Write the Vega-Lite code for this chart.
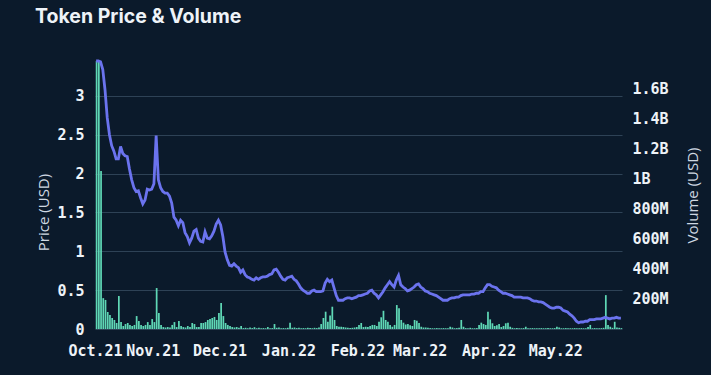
{
"$schema": "https://vega.github.io/schema/vega-lite/v6.json",
"width": 527, "height": 268,
"autosize": {"type": "none"},
"padding": {"left": 95, "top": 61, "right": 89, "bottom": 46},
"background": "#0b1a2b",
"title": {"text": "Token Price & Volume", "anchor": "start", "frame": "group", "dx": -60, "offset": 13, "baseline": "alphabetic", "font": "Inter", "fontSize": 19.5, "fontWeight": "bold", "color": "#eef3f8"},
"config": {"view": {"stroke": null}},
"data": {"values": [
{"d":"2021-10-06","p":3.45,"v":1780},{"d":"2021-10-07","p":3.45,"v":1780},{"d":"2021-10-08","p":3.44,"v":1050},{"d":"2021-10-09","p":3.34,"v":205},{"d":"2021-10-10","p":3.08,"v":193},{"d":"2021-10-11","p":2.72,"v":113},{"d":"2021-10-12","p":2.50,"v":93},{"d":"2021-10-13","p":2.36,"v":73},{"d":"2021-10-14","p":2.29,"v":60},{"d":"2021-10-15","p":2.19,"v":40},
{"d":"2021-10-16","p":2.19,"v":219},{"d":"2021-10-17","p":2.35,"v":46},{"d":"2021-10-18","p":2.26,"v":20},{"d":"2021-10-19","p":2.23,"v":33},{"d":"2021-10-20","p":2.22,"v":40},{"d":"2021-10-21","p":2.06,"v":27},{"d":"2021-10-22","p":1.92,"v":20},{"d":"2021-10-23","p":1.82,"v":27},{"d":"2021-10-24","p":1.77,"v":86},{"d":"2021-10-25","p":1.78,"v":53},
{"d":"2021-10-26","p":1.69,"v":27},{"d":"2021-10-27","p":1.61,"v":20},{"d":"2021-10-28","p":1.66,"v":27},{"d":"2021-10-29","p":1.80,"v":46},{"d":"2021-10-30","p":1.79,"v":27},{"d":"2021-10-31","p":1.80,"v":66},
{"d":"2021-11-01","p":1.87,"v":46},{"d":"2021-11-02","p":2.49,"v":272},{"d":"2021-11-03","p":1.92,"v":106},{"d":"2021-11-04","p":1.82,"v":27},{"d":"2021-11-05","p":1.77,"v":13},{"d":"2021-11-06","p":1.75,"v":10},{"d":"2021-11-07","p":1.75,"v":13},{"d":"2021-11-08","p":1.71,"v":10},{"d":"2021-11-09","p":1.62,"v":27},{"d":"2021-11-10","p":1.44,"v":46},
{"d":"2021-11-11","p":1.40,"v":13},{"d":"2021-11-12","p":1.33,"v":53},{"d":"2021-11-13","p":1.40,"v":20},{"d":"2021-11-14","p":1.37,"v":13},{"d":"2021-11-15","p":1.24,"v":10},{"d":"2021-11-16","p":1.19,"v":20},{"d":"2021-11-17","p":1.11,"v":13},{"d":"2021-11-18","p":1.17,"v":40},{"d":"2021-11-19","p":1.26,"v":33},{"d":"2021-11-20","p":1.28,"v":13},
{"d":"2021-11-21","p":1.17,"v":13},{"d":"2021-11-22","p":1.13,"v":40},{"d":"2021-11-23","p":1.12,"v":40},{"d":"2021-11-24","p":1.25,"v":46},{"d":"2021-11-25","p":1.17,"v":60},{"d":"2021-11-26","p":1.16,"v":66},{"d":"2021-11-27","p":1.20,"v":73},{"d":"2021-11-28","p":1.26,"v":80},{"d":"2021-11-29","p":1.35,"v":60},{"d":"2021-11-30","p":1.40,"v":106},
{"d":"2021-12-01","p":1.34,"v":173},{"d":"2021-12-02","p":1.19,"v":86},{"d":"2021-12-03","p":0.99,"v":40},{"d":"2021-12-04","p":0.89,"v":27},{"d":"2021-12-05","p":0.82,"v":20},{"d":"2021-12-06","p":0.81,"v":13},{"d":"2021-12-07","p":0.84,"v":10},{"d":"2021-12-08","p":0.81,"v":13},{"d":"2021-12-09","p":0.79,"v":8},{"d":"2021-12-10","p":0.73,"v":20},
{"d":"2021-12-11","p":0.76,"v":6},{"d":"2021-12-12","p":0.70,"v":8},{"d":"2021-12-13","p":0.67,"v":5},{"d":"2021-12-14","p":0.66,"v":10},{"d":"2021-12-15","p":0.64,"v":6},{"d":"2021-12-16","p":0.63,"v":12},{"d":"2021-12-17","p":0.66,"v":5},{"d":"2021-12-18","p":0.64,"v":8},{"d":"2021-12-19","p":0.66,"v":5},{"d":"2021-12-20","p":0.67,"v":6},
{"d":"2021-12-21","p":0.67,"v":5},{"d":"2021-12-22","p":0.68,"v":13},{"d":"2021-12-23","p":0.70,"v":5},{"d":"2021-12-24","p":0.71,"v":6},{"d":"2021-12-25","p":0.76,"v":33},{"d":"2021-12-26","p":0.77,"v":8},{"d":"2021-12-27","p":0.73,"v":10},{"d":"2021-12-28","p":0.68,"v":5},{"d":"2021-12-29","p":0.64,"v":6},{"d":"2021-12-30","p":0.63,"v":5},{"d":"2021-12-31","p":0.66,"v":8},
{"d":"2022-01-01","p":0.67,"v":42},{"d":"2022-01-02","p":0.68,"v":8},{"d":"2022-01-03","p":0.64,"v":10},{"d":"2022-01-04","p":0.62,"v":6},{"d":"2022-01-05","p":0.58,"v":8},{"d":"2022-01-06","p":0.53,"v":5},{"d":"2022-01-07","p":0.50,"v":6},{"d":"2022-01-08","p":0.48,"v":5},{"d":"2022-01-09","p":0.46,"v":8},{"d":"2022-01-10","p":0.46,"v":6},
{"d":"2022-01-11","p":0.49,"v":5},{"d":"2022-01-12","p":0.50,"v":8},{"d":"2022-01-13","p":0.48,"v":6},{"d":"2022-01-14","p":0.48,"v":10},{"d":"2022-01-15","p":0.48,"v":33},{"d":"2022-01-16","p":0.49,"v":73},{"d":"2022-01-17","p":0.59,"v":115},{"d":"2022-01-18","p":0.64,"v":48},{"d":"2022-01-19","p":0.61,"v":90},{"d":"2022-01-20","p":0.63,"v":148},
{"d":"2022-01-21","p":0.53,"v":60},{"d":"2022-01-22","p":0.43,"v":20},{"d":"2022-01-23","p":0.37,"v":15},{"d":"2022-01-24","p":0.37,"v":15},{"d":"2022-01-25","p":0.37,"v":13},{"d":"2022-01-26","p":0.39,"v":10},{"d":"2022-01-27","p":0.40,"v":8},{"d":"2022-01-28","p":0.40,"v":6},{"d":"2022-01-29","p":0.39,"v":8},{"d":"2022-01-30","p":0.40,"v":10},{"d":"2022-01-31","p":0.41,"v":13},
{"d":"2022-02-01","p":0.43,"v":27},{"d":"2022-02-02","p":0.43,"v":40},{"d":"2022-02-03","p":0.44,"v":13},{"d":"2022-02-04","p":0.45,"v":15},{"d":"2022-02-05","p":0.46,"v":13},{"d":"2022-02-06","p":0.49,"v":20},{"d":"2022-02-07","p":0.50,"v":27},{"d":"2022-02-08","p":0.46,"v":27},{"d":"2022-02-09","p":0.44,"v":20},{"d":"2022-02-10","p":0.40,"v":48},
{"d":"2022-02-11","p":0.44,"v":78},{"d":"2022-02-12","p":0.48,"v":121},{"d":"2022-02-13","p":0.53,"v":60},{"d":"2022-02-14","p":0.57,"v":48},{"d":"2022-02-15","p":0.61,"v":27},{"d":"2022-02-16","p":0.57,"v":15},{"d":"2022-02-17","p":0.54,"v":27},{"d":"2022-02-18","p":0.63,"v":159},{"d":"2022-02-19","p":0.69,"v":137},{"d":"2022-02-20","p":0.57,"v":60},
{"d":"2022-02-21","p":0.54,"v":42},{"d":"2022-02-22","p":0.52,"v":30},{"d":"2022-02-23","p":0.49,"v":33},{"d":"2022-02-24","p":0.50,"v":25},{"d":"2022-02-25","p":0.52,"v":20},{"d":"2022-02-26","p":0.54,"v":60},{"d":"2022-02-27","p":0.57,"v":55},{"d":"2022-02-28","p":0.58,"v":40},
{"d":"2022-03-01","p":0.54,"v":15},{"d":"2022-03-02","p":0.52,"v":10},{"d":"2022-03-03","p":0.49,"v":10},{"d":"2022-03-04","p":0.48,"v":8},{"d":"2022-03-05","p":0.46,"v":6},{"d":"2022-03-06","p":0.45,"v":5},{"d":"2022-03-07","p":0.44,"v":5},{"d":"2022-03-08","p":0.43,"v":6},{"d":"2022-03-09","p":0.41,"v":5},{"d":"2022-03-10","p":0.39,"v":5},
{"d":"2022-03-11","p":0.37,"v":6},{"d":"2022-03-12","p":0.37,"v":5},{"d":"2022-03-13","p":0.37,"v":5},{"d":"2022-03-14","p":0.39,"v":15},{"d":"2022-03-15","p":0.40,"v":10},{"d":"2022-03-16","p":0.40,"v":5},{"d":"2022-03-17","p":0.41,"v":6},{"d":"2022-03-18","p":0.41,"v":8},{"d":"2022-03-19","p":0.43,"v":60},{"d":"2022-03-20","p":0.44,"v":15},
{"d":"2022-03-21","p":0.44,"v":6},{"d":"2022-03-22","p":0.44,"v":5},{"d":"2022-03-23","p":0.44,"v":8},{"d":"2022-03-24","p":0.45,"v":5},{"d":"2022-03-25","p":0.45,"v":5},{"d":"2022-03-26","p":0.46,"v":6},{"d":"2022-03-27","p":0.46,"v":27},{"d":"2022-03-28","p":0.48,"v":42},{"d":"2022-03-29","p":0.48,"v":33},{"d":"2022-03-30","p":0.53,"v":27},{"d":"2022-03-31","p":0.57,"v":115},
{"d":"2022-04-01","p":0.57,"v":64},{"d":"2022-04-02","p":0.55,"v":38},{"d":"2022-04-03","p":0.54,"v":20},{"d":"2022-04-04","p":0.53,"v":25},{"d":"2022-04-05","p":0.50,"v":33},{"d":"2022-04-06","p":0.48,"v":13},{"d":"2022-04-07","p":0.46,"v":20},{"d":"2022-04-08","p":0.46,"v":38},{"d":"2022-04-09","p":0.45,"v":42},{"d":"2022-04-10","p":0.44,"v":15},
{"d":"2022-04-11","p":0.43,"v":8},{"d":"2022-04-12","p":0.41,"v":5},{"d":"2022-04-13","p":0.41,"v":6},{"d":"2022-04-14","p":0.41,"v":5},{"d":"2022-04-15","p":0.41,"v":5},{"d":"2022-04-16","p":0.40,"v":6},{"d":"2022-04-17","p":0.40,"v":15},{"d":"2022-04-18","p":0.40,"v":5},{"d":"2022-04-19","p":0.39,"v":5},{"d":"2022-04-20","p":0.37,"v":6},
{"d":"2022-04-21","p":0.36,"v":5},{"d":"2022-04-22","p":0.36,"v":5},{"d":"2022-04-23","p":0.35,"v":5},{"d":"2022-04-24","p":0.35,"v":6},{"d":"2022-04-25","p":0.34,"v":5},{"d":"2022-04-26","p":0.32,"v":5},{"d":"2022-04-27","p":0.30,"v":6},{"d":"2022-04-28","p":0.28,"v":5},{"d":"2022-04-29","p":0.27,"v":5},{"d":"2022-04-30","p":0.27,"v":6},
{"d":"2022-05-01","p":0.28,"v":15},{"d":"2022-05-02","p":0.28,"v":10},{"d":"2022-05-03","p":0.27,"v":5},{"d":"2022-05-04","p":0.24,"v":5},{"d":"2022-05-05","p":0.23,"v":6},{"d":"2022-05-06","p":0.22,"v":5},{"d":"2022-05-07","p":0.19,"v":5},{"d":"2022-05-08","p":0.17,"v":5},{"d":"2022-05-09","p":0.14,"v":6},{"d":"2022-05-10","p":0.10,"v":5},
{"d":"2022-05-11","p":0.08,"v":5},{"d":"2022-05-12","p":0.09,"v":6},{"d":"2022-05-13","p":0.09,"v":5},{"d":"2022-05-14","p":0.10,"v":5},{"d":"2022-05-15","p":0.10,"v":13},{"d":"2022-05-16","p":0.12,"v":27},{"d":"2022-05-17","p":0.12,"v":5},{"d":"2022-05-18","p":0.12,"v":6},{"d":"2022-05-19","p":0.13,"v":5},{"d":"2022-05-20","p":0.13,"v":5},
{"d":"2022-05-21","p":0.13,"v":6},{"d":"2022-05-22","p":0.14,"v":8},{"d":"2022-05-23","p":0.15,"v":225},{"d":"2022-05-24","p":0.14,"v":27},{"d":"2022-05-25","p":0.13,"v":15},{"d":"2022-05-26","p":0.14,"v":8},{"d":"2022-05-27","p":0.14,"v":48},{"d":"2022-05-28","p":0.15,"v":10},{"d":"2022-05-29","p":0.14,"v":8},{"d":"2022-05-30","p":0.14,"v":6}
]},
"layer": [
{"mark": {"type": "bar", "color": "#5fd8b6", "binSpacing": 0.5},
 "encoding": {
  "x": {"field": "d", "type": "temporal", "timeUnit": "utcyearmonthdate",
   "scale": {"domain": [{"year": 2021, "month": 10, "date": 6, "utc": true}, {"year": 2022, "month": 5, "date": 31, "utc": true}]},
   "axis": {"title": null, "labelExpr": "utcFormat(datum.value, '%b.%y')", "labelFlush": false, "labelOverlap": false, "labelBound": false, "domain": false, "ticks": false, "grid": false, "labelPadding": 14, "labelFont": "DejaVu Sans Mono", "labelFontSize": 15, "labelFontWeight": "bold", "labelColor": "#eef3f8",
    "values": [{"year": 2021, "month": 10, "date": 6, "utc": true}, {"year": 2021, "month": 11, "date": 1, "utc": true}, {"year": 2021, "month": 12, "date": 1, "utc": true}, {"year": 2022, "month": 1, "date": 1, "utc": true}, {"year": 2022, "month": 2, "date": 1, "utc": true}, {"year": 2022, "month": 3, "date": 1, "utc": true}, {"year": 2022, "month": 4, "date": 1, "utc": true}, {"year": 2022, "month": 5, "date": 1, "utc": true}]}},
  "y": {"field": "v", "type": "quantitative", "scale": {"domain": [0, 1780], "nice": false},
   "axis": {"orient": "right", "title": "Volume (USD)", "values": [200, 400, 600, 800, 1000, 1200, 1400, 1600], "labelExpr": "datum.value >= 1000 ? format(datum.value/1000, '~g') + 'B' : datum.value + 'M'", "grid": false, "domain": false, "ticks": false, "labelPadding": 10, "labelFont": "DejaVu Sans Mono", "labelFontSize": 15, "labelFontWeight": "bold", "labelColor": "#eef3f8", "titleFont": "Open Sans", "titleFontSize": 15, "titleFontWeight": "normal", "titleColor": "#cfd8e2", "titleAngle": 270, "titleX": 70, "titleY": 134, "titleAlign": "center", "titleBaseline": "middle"}}
 }},
{"mark": {"type": "line", "color": "#6b73ee", "strokeWidth": 2.8},
 "encoding": {
  "x": {"field": "d", "type": "temporal", "timeUnit": "utcyearmonthdate", "bandPosition": 0.5},
  "y": {"field": "p", "type": "quantitative", "scale": {"domain": [0, 3.45], "nice": false},
   "axis": {"orient": "left", "title": "Price (USD)", "values": [0, 0.5, 1, 1.5, 2, 2.5, 3], "format": "~g", "grid": true, "gridColor": "#2e4256", "gridWidth": 1, "domain": false, "ticks": false, "labelPadding": 11, "labelFont": "DejaVu Sans Mono", "labelFontSize": 15, "labelFontWeight": "bold", "labelColor": "#eef3f8", "titleFont": "Open Sans", "titleFontSize": 15, "titleFontWeight": "normal", "titleColor": "#cfd8e2", "titleAngle": 270, "titleX": -52, "titleY": 151, "titleAlign": "center", "titleBaseline": "middle"}}
 }}
],
"resolve": {"scale": {"y": "independent"}}
}
